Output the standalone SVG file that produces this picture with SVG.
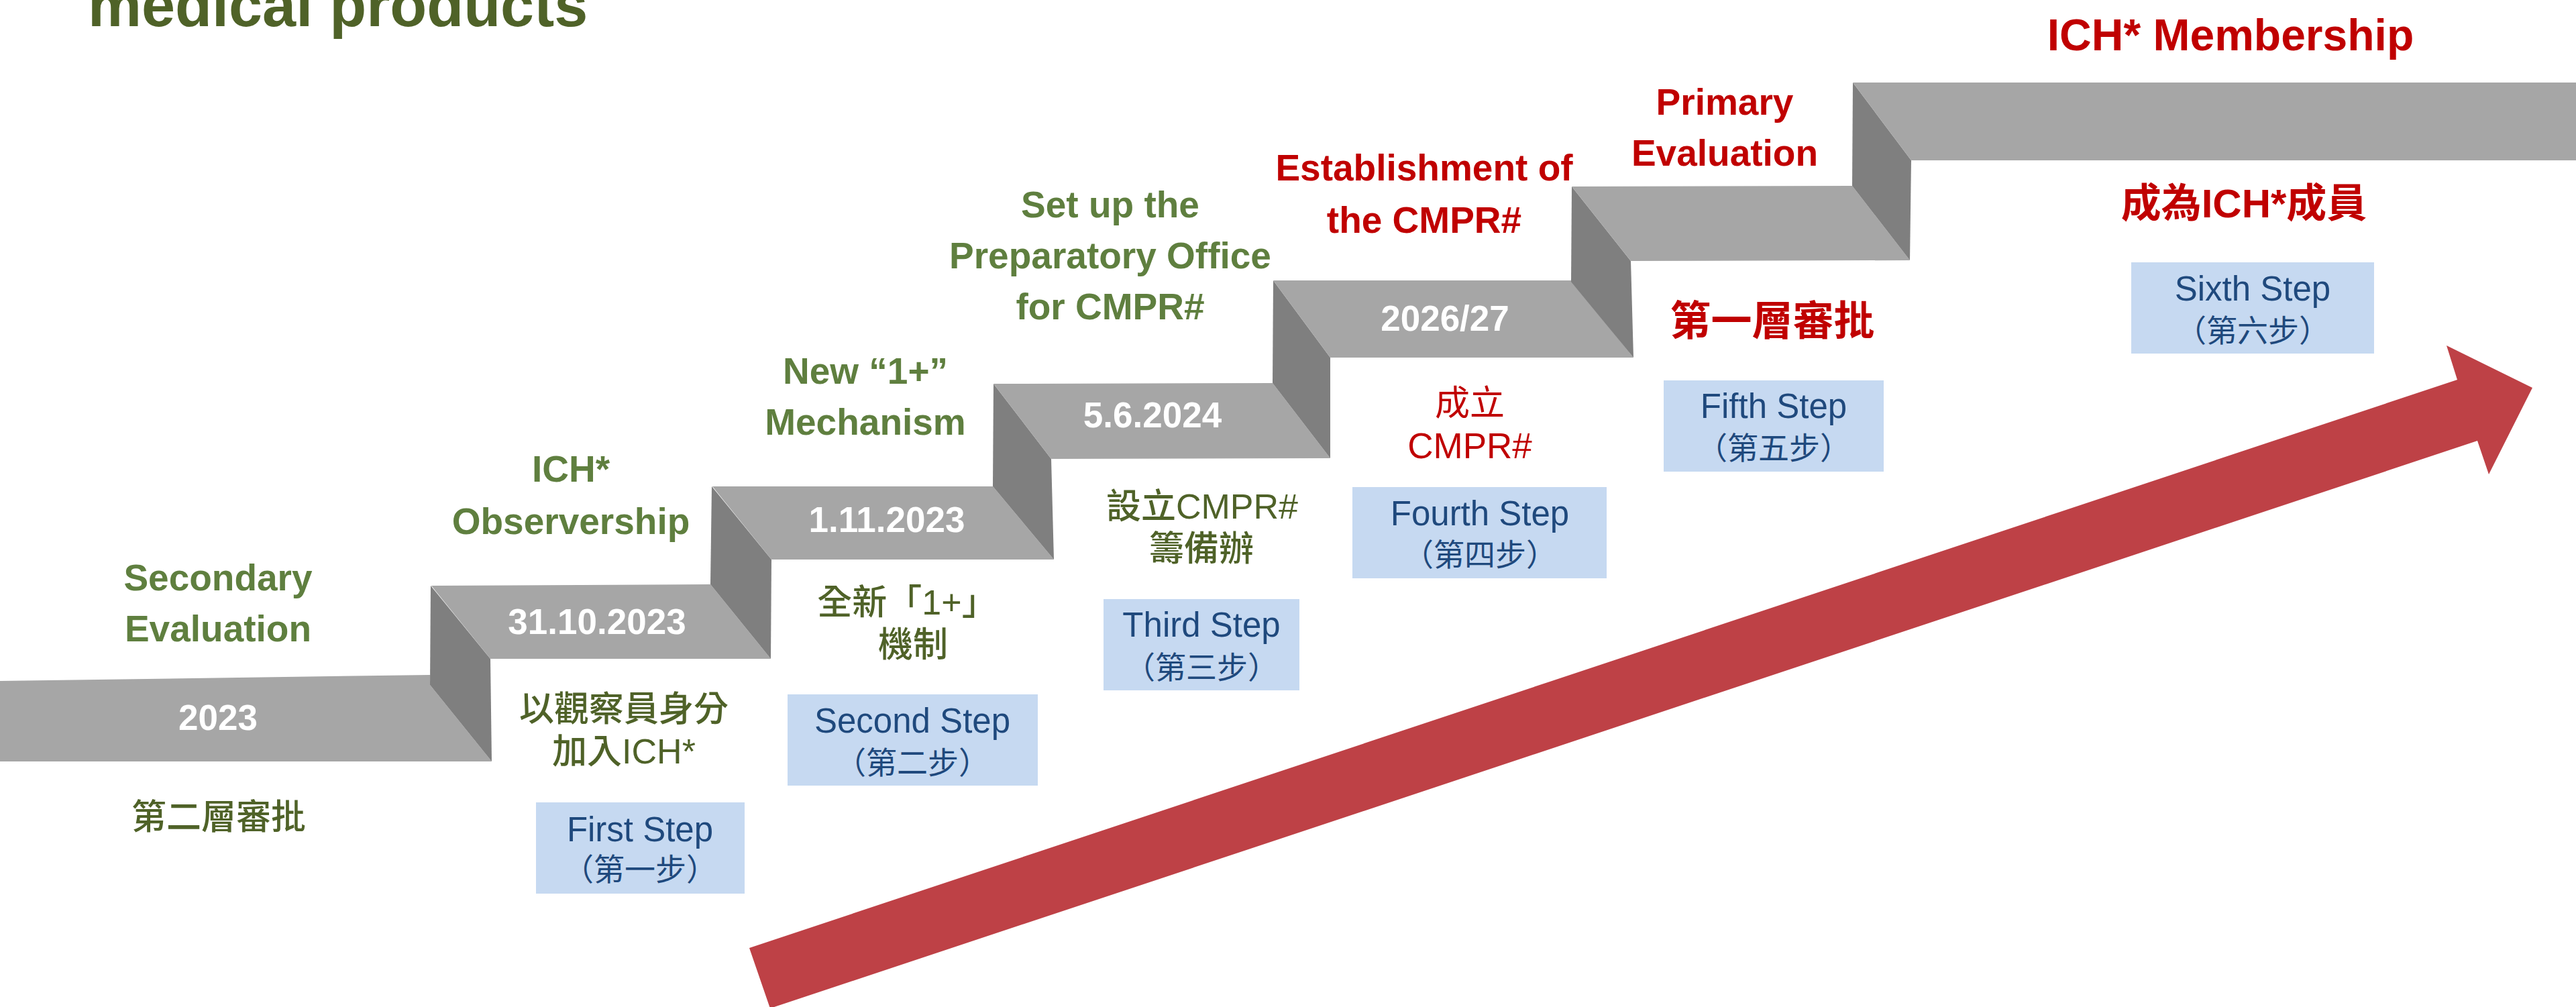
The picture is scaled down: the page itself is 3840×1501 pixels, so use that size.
<svg xmlns="http://www.w3.org/2000/svg" width="3840" height="1501" viewBox="0 0 3840 1501">
<style>
text{font-family:"Liberation Sans","Noto Sans CJK TC",sans-serif;text-anchor:middle}
.tread{fill:#A6A6A6}
.riser{fill:#7F7F7F}
.date{font-size:53px;font-weight:bold;fill:#FFFFFF}
.en-g{font-size:55px;font-weight:bold;fill:#5F7F3F}
.zh-g{font-size:52px;font-weight:500;fill:#4F6228}
.en-r{font-size:55px;font-weight:bold;fill:#C00000}
.zh-r{font-weight:bold;fill:#C00000}
.box{fill:#C6D9F1}
.box-en{font-size:51px;fill:#1F497D}
.box-zh{font-size:46px;fill:#1F497D}
</style>
<rect width="3840" height="1501" fill="#FFFFFF"/>
<text x="131" y="39" style="font-size:90px;font-weight:bold;fill:#4F6228;text-anchor:start">medical products</text>

<g id="connectors">
<polygon points="1117,1413 3663,566 3647,515 3775,578 3710,707 3693,657 1148,1503" fill="#BE4146"/>
</g>

<g id="step0">
<polygon class="tread" points="0,1015 641,1006 641,1021 733,1135 0,1135"/>
<text class="date" x="325" y="1088">2023</text>
</g>
<g id="step1">
<polygon class="riser" points="642,873 731,982 733,1135 641,1021"/>
<polygon class="tread" points="643,873 1059,871 1149,982 731,982"/>
<text class="date" x="890" y="945">31.10.2023</text>
</g>
<g id="step2">
<polygon class="riser" points="1061,725 1150,834 1149,982 1059,871"/>
<polygon class="tread" points="1062,725 1480,725 1571,834 1150,834"/>
<text class="date" x="1322" y="793">1.11.2023</text>
</g>
<g id="step3">
<polygon class="riser" points="1481,572 1567,684 1571,834 1480,725"/>
<polygon class="tread" points="1481,572 1897,571 1983,683 1567,684"/>
<text class="date" x="1718" y="637">5.6.2024</text>
</g>
<g id="step4">
<polygon class="riser" points="1898,418 1983,533 1983,683 1897,571"/>
<polygon class="tread" points="1898,418 2342,418 2435,533 1983,533"/>
<text class="date" x="2154" y="493">2026/27</text>
</g>
<g id="step5">
<polygon class="riser" points="2343,278 2431,389 2435,533 2342,420"/>
<polygon class="tread" points="2343,278 2761,277 2847,388 2431,389"/>
</g>
<g id="step6">
<polygon class="riser" points="2762,123 2849,239 2847,388 2761,277"/>
<polygon class="tread" points="2762,123 3840,123 3840,239 2849,239"/>
</g>

<g id="label-secondary">
<text class="en-g" x="325" y="880">Secondary</text>
<text class="en-g" x="325" y="956">Evaluation</text>
<text class="zh-g" x="326" y="1236">第二層審批</text>
</g>
<g id="label-observership">
<text class="en-g" x="851" y="718">ICH*</text>
<text class="en-g" x="851" y="796">Observership</text>
<text class="zh-g" x="930" y="1075">以觀察員身分</text>
<text class="zh-g" x="930" y="1138">加入ICH*</text>
</g>
<g id="label-mechanism">
<text class="en-g" x="1290" y="572">New “1+”</text>
<text class="en-g" x="1290" y="648">Mechanism</text>
<text class="zh-g" x="1352" y="916">全新「1+」</text>
<text class="zh-g" x="1361" y="979">機制</text>
</g>
<g id="label-preparatory">
<text class="en-g" x="1655" y="324">Set up the</text>
<text class="en-g" x="1655" y="400">Preparatory Office</text>
<text class="en-g" x="1655" y="476">for CMPR#</text>
<text class="zh-g" x="1792" y="773">設立CMPR#</text>
<text class="zh-g" x="1791" y="836">籌備辦</text>
</g>
<g id="label-establishment">
<text class="en-r" x="2123" y="269">Establishment of</text>
<text class="en-r" x="2123" y="347">the CMPR#</text>
<text x="2191" y="619" style="font-size:52px;fill:#C00000">成立</text>
<text x="2191" y="683" style="font-size:53px;fill:#C00000">CMPR#</text>
</g>
<g id="label-primary">
<text class="en-r" x="2571" y="171">Primary</text>
<text class="en-r" x="2571" y="247">Evaluation</text>
<text class="zh-r" x="2642" y="500" style="font-size:61px">第一層審批</text>
</g>
<g id="label-membership">
<text class="en-r" x="3325" y="75" style="font-size:66px">ICH* Membership</text>
<text class="zh-r" x="3345" y="324" style="font-size:60px">成為ICH*成員</text>
</g>

<g id="box-step1">
<rect class="box" x="799" y="1196" width="311" height="136"/>
<text class="box-en" x="954" y="1254">First Step</text>
<text class="box-zh" x="954" y="1312">（第一步）</text>
</g>
<g id="box-step2">
<rect class="box" x="1174" y="1035" width="373" height="136"/>
<text class="box-en" x="1360" y="1092">Second Step</text>
<text class="box-zh" x="1360" y="1153">（第二步）</text>
</g>
<g id="box-step3">
<rect class="box" x="1645" y="893" width="292" height="136"/>
<text class="box-en" x="1791" y="949">Third Step</text>
<text class="box-zh" x="1791" y="1011">（第三步）</text>
</g>
<g id="box-step4">
<rect class="box" x="2016" y="726" width="379" height="136"/>
<text class="box-en" x="2206" y="783">Fourth Step</text>
<text class="box-zh" x="2206" y="843">（第四步）</text>
</g>
<g id="box-step5">
<rect class="box" x="2480" y="567" width="328" height="136"/>
<text class="box-en" x="2644" y="623">Fifth Step</text>
<text class="box-zh" x="2644" y="684">（第五步）</text>
</g>
<g id="box-step6">
<rect class="box" x="3177" y="391" width="362" height="136"/>
<text class="box-en" x="3358" y="448">Sixth Step</text>
<text class="box-zh" x="3358" y="509">（第六步）</text>
</g>
</svg>
